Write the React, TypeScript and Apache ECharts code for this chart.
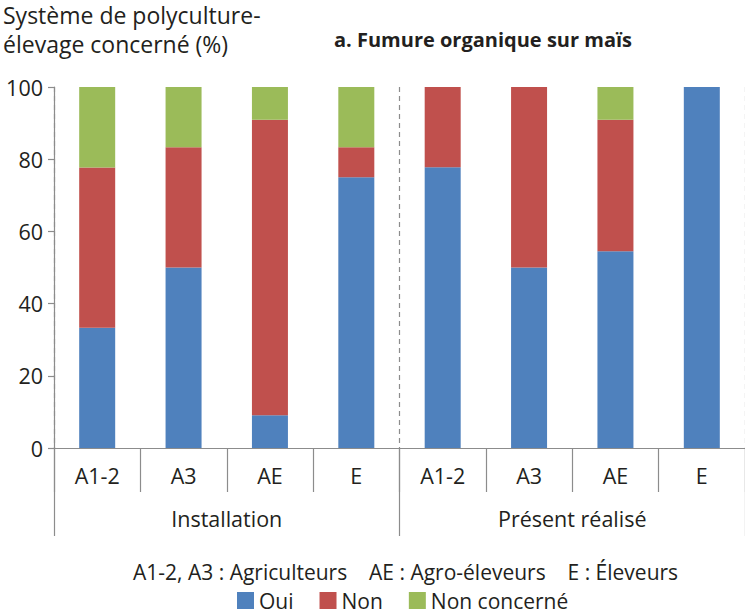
import React, { useEffect, useRef } from "react";
import * as echarts from "echarts";

const categories = ["A1-2", "A3", "AE", "E", "A1-2", "A3", "AE", "E"];
const groups = ["Installation", "Présent réalisé"];
const oui = [33.3, 50, 9.1, 75, 77.8, 50, 54.5, 100];
const non = [44.4, 33.3, 81.8, 8.3, 22.2, 50, 36.4, 0];
const nonConcerne = [22.3, 16.7, 9.1, 16.7, 0, 0, 9.1, 0];
const yTicks = { min: 0, max: 100, interval: 20 };

const FONT = "'Open Sans', 'Noto Sans', sans-serif";
const TXT = "#231f20";
const AXIS = "#8c8c8c";

export default function App() {
  const ref = useRef<HTMLDivElement>(null);
  useEffect(() => {
    if (!ref.current) return;
    const chart = echarts.init(ref.current, null, { renderer: "svg" });
    const bar = (name: string, data: number[], color: string) => ({
      name,
      type: "bar",
      stack: "s",
      data,
      barWidth: 36,
      itemStyle: { color },
      xAxisIndex: 0,
    });
    chart.setOption({
      animation: false,
      textStyle: { fontFamily: FONT },
      title: [
        {
          text: "Système de polyculture-\nélevage concerné (%)",
          left: 3,
          top: 0,
          padding: [0, 0, 0, 0],
          textStyle: { fontFamily: FONT, fontSize: 23, fontWeight: "normal", color: TXT, lineHeight: 29 },
        },
        {
          text: "a. Fumure organique sur maïs",
          left: 329,
          top: 24,
          textStyle: { fontFamily: FONT, fontSize: 20, fontWeight: "bold", color: TXT },
        },
        {
          text: "A1-2, A3 : Agriculteurs    AE : Agro-éleveurs    E : Éleveurs",
          left: 128,
          top: 556,
          textStyle: { fontFamily: FONT, fontSize: 21, fontWeight: "normal", color: TXT },
        },
      ],
      legend: {
        top: 590,
        left: 237,
        padding: 0,
        icon: "rect",
        itemWidth: 17,
        itemHeight: 17,
        itemGap: 26,
        textStyle: { fontFamily: FONT, fontSize: 21, color: TXT },
        data: ["Oui", "Non", "Non concerné"],
      },
      grid: { left: 54, right: -9, top: 87, bottom: 168 },
      xAxis: [
        {
          type: "category",
          data: categories,
          axisLine: { lineStyle: { color: AXIS, width: 1.2 } },
          axisTick: { show: true, interval: 0, length: 44, lineStyle: { color: AXIS, width: 1.2 } },
          axisLabel: { interval: 0, margin: 16, fontSize: 21.5, color: TXT, fontFamily: FONT },
        },
        {
          type: "category",
          data: groups,
          position: "bottom",
          axisLine: { show: false },
          axisTick: { show: true, interval: 0, length: 88, lineStyle: { color: AXIS, width: 1.2 } },
          axisLabel: { interval: 0, margin: 59, fontSize: 21.5, color: TXT, fontFamily: FONT },
          splitLine: { show: true, interval: 0, lineStyle: { color: AXIS, type: [5, 4], width: 1.2 } },
        },
      ],
      yAxis: {
        type: "value",
        min: yTicks.min,
        max: yTicks.max,
        interval: yTicks.interval,
        axisLine: { show: true, lineStyle: { color: AXIS, width: 1.2 } },
        axisTick: { show: true, length: 6, lineStyle: { color: AXIS, width: 1.2 } },
        splitLine: { show: false },
        axisLabel: { fontSize: 21.5, color: TXT, fontFamily: FONT, margin: 11 },
      },
      series: [
        bar("Oui", oui, "#4f81bd"),
        bar("Non", non, "#c0504d"),
        bar("Non concerné", nonConcerne, "#9bbb59"),
      ],
    });
    return () => chart.dispose();
  }, []);
  return (
    <div
      ref={ref}
      style={{ position: "fixed", left: 0, top: 0, width: 745, height: 616, background: "#fff" }}
    />
  );
}
